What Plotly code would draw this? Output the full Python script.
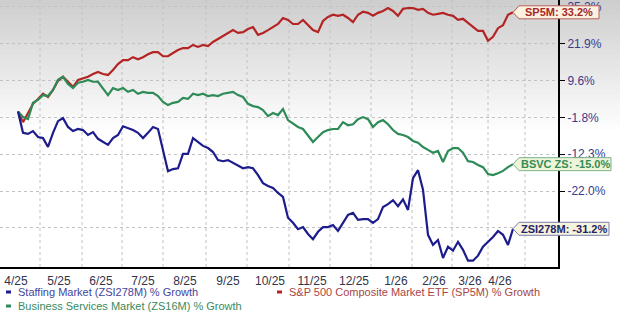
import numpy as np
import plotly.graph_objects as go

# ---------------- data ----------------
x_tick_labels = ["4/25", "5/25", "6/25", "7/25", "8/25", "9/25", "10/25",
                 "11/25", "12/25", "1/26", "2/26", "3/26", "4/26"]
x_tick_pos = [-0.4, 8.2, 16.6, 25.0, 33.4, 42.0, 50.4, 58.8, 67.2, 75.6, 83.2, 90.4, 96.4]
month_starts = [4.4, 12.8, 20.8, 29.0, 37.6, 45.8, 54.2, 62.4, 70.6, 78.8, 86.8, 94.0, 101.4]
y_ticks = [-31.0, -22.0, -12.3, -1.8, 9.6, 21.9, 35.2]
y_tick_text = ["", "-22.0%", "-12.3%", "-1.8%", "9.6%", "21.9%", "35.2%"]  # lowest one hidden by callout

sp5m = [0.0, -3.2, -0.5, 2.3, 3.8, 5.4, 4.4, 6.6, 9.5, 10.8,
        9.2, 7.6, 9.8, 10.4, 10.8, 11.7, 12.4, 11.7, 11.4, 13.0,
        15.0, 16.3, 16.3, 17.3, 16.6, 17.3, 18.3, 19.0, 19.0, 17.6,
        17.6, 18.7, 19.7, 20.4, 20.4, 21.5, 20.8, 21.5, 21.1, 22.5,
        23.6, 24.6, 25.7, 26.7, 25.7, 26.0, 27.1, 27.8, 25.0, 25.7,
        26.7, 27.8, 28.9, 31.1, 30.4, 28.9, 28.9, 30.4, 28.5, 26.7,
        26.0, 30.0, 31.5, 32.3, 31.9, 32.3, 31.1, 29.6, 32.3, 33.4,
        33.0, 31.9, 33.0, 33.7, 34.8, 33.7, 31.9, 34.5, 34.8, 34.8,
        34.1, 34.5, 33.0, 32.3, 32.6, 33.0, 32.3, 31.9, 30.4, 30.8,
        29.3, 27.8, 26.4, 26.4, 22.9, 24.3, 27.4, 28.5, 32.3, 33.2]

bsvc = [0.0, -1.7, -2.3, 2.6, 3.5, 5.0, 4.7, 6.6, 9.8, 10.8,
        8.5, 7.2, 8.9, 9.2, 9.8, 9.2, 9.2, 6.9, 5.0, 7.2,
        6.6, 7.2, 6.0, 6.6, 5.4, 6.0, 5.7, 5.7, 4.7, 2.9,
        1.9, 2.6, 2.9, 4.1, 3.8, 5.4, 5.0, 5.4, 4.7, 5.0,
        4.7, 5.4, 5.7, 6.0, 5.0, 4.4, 2.3, 1.6, 1.3, 0.4,
        -1.4, -0.5, -1.1, 0.7, -2.6, -3.5, -4.6, -5.2, -7.2, -8.9,
        -7.5, -6.1, -5.5, -5.2, -5.2, -3.2, -4.1, -3.8, -2.3, -1.7,
        -2.3, -4.6, -3.2, -2.6, -3.8, -5.5, -6.6, -6.9, -7.5, -8.6,
        -9.1, -10.3, -11.1, -11.9, -11.4, -14.4, -11.4, -10.6, -10.6, -11.9,
        -14.2, -14.4, -15.2, -15.8, -17.6, -17.9, -17.4, -16.8, -15.8, -15.0]

zsi278m = [0.0, -6.3, -6.6, -5.8, -7.5, -7.8, -10.3, -6.3, -2.9, -2.0,
           -4.6, -5.8, -5.2, -5.5, -6.9, -6.1, -8.0, -8.9, -9.7, -7.8,
           -6.9, -4.4, -4.9, -5.5, -6.3, -7.8, -6.3, -4.6, -5.2, -11.1,
           -16.9, -16.3, -16.1, -12.2, -12.2, -7.8, -8.9, -10.0, -10.6, -11.7,
           -13.9, -14.2, -13.9, -14.7, -15.3, -16.1, -15.8, -16.1, -17.9, -20.0,
           -20.7, -21.2, -22.5, -23.5, -28.6, -29.8, -31.3, -30.8, -32.4, -33.6,
           -31.9, -30.8, -30.8, -30.3, -31.7, -29.8, -27.9, -27.4, -29.1, -28.9,
           -28.9, -29.8, -28.9, -26.0, -25.3, -24.3, -25.8, -24.1, -26.7, -18.7,
           -16.6, -21.7, -32.6, -34.9, -33.8, -37.8, -35.3, -36.2, -34.2, -36.0,
           -38.4, -38.4, -37.3, -35.3, -34.2, -33.1, -31.7, -32.6, -34.9, -31.2]

# ---------------- scale / style ----------------
OFFSET = 140.0                      # compressed % scale used by the source chart
Y_RANGE_PCT = [-39.77, 37.84]
X_RANGE = [-3.6, 108.0]
yr = np.log10(np.array(Y_RANGE_PCT) + OFFSET)

FONT = "Liberation Sans, Arial, sans-serif"
RED, GREEN, BLUE = "#b52424", "#2e8b57", "#1c1c8c"
GRID = "#c2c2c2"


def paper_y(v):
    return float((np.log10(v + OFFSET) - yr[0]) / (yr[1] - yr[0]))


def paper_x(i):
    return float((i - X_RANGE[0]) / (X_RANGE[1] - X_RANGE[0]))


fig = go.Figure()
for vals, col in [(sp5m, RED), (bsvc, GREEN), (zsi278m, BLUE)]:
    fig.add_trace(go.Scatter(x=np.arange(len(vals)), y=np.array(vals) + OFFSET,
                             mode="lines", line=dict(color=col, width=2.2),
                             showlegend=False, hoverinfo="skip"))

shapes = []
# gray-to-white background gradient in the upper part of the chart
H = 267.0
n = 27
for k in range(n):
    c = int(round(206 + (255 - 206) * k / (n - 1)))
    shapes.append(dict(type="rect", xref="paper", yref="paper", layer="below",
                       x0=0, x1=620 / 558, y0=1 - (k + 1) * 5 / H - 0.002, y1=1 - k * 5 / H,
                       fillcolor=f"rgb({c},{c},{c})", line=dict(width=0)))
# month gridlines
for m in month_starts:
    shapes.append(dict(type="line", xref="x", yref="paper", layer="below",
                       x0=m, x1=m, y0=0, y1=1,
                       line=dict(color=GRID, width=1, dash="dot")))

annotations = []
# end-of-line callouts
callouts = [
    (sp5m, "SP5M: 33.2%", "#a3282a", "#fcf1de", "#b86060", 86),
    (bsvc, "BSVC ZS: -15.0%", "#358a55", "#eef4d8", "#79b58c", 98),
    (zsi278m, "ZSI278M: -31.2%", "#1e2468", "#f7f3dc", "#7b7fae", 96),
]
for vals, txt, tcol, bg, bd, w in callouts:
    xa = paper_x(len(vals) - 1)
    ya = paper_y(vals[-1])
    shapes.append(dict(type="path", xref="paper", yref="paper", layer="above",
                       xsizemode="pixel", ysizemode="pixel", xanchor=xa, yanchor=ya,
                       path=f"M0,0 L6,6.5 L{w},6.5 L{w},-6.5 L6,-6.5 Z",
                       fillcolor=bg, line=dict(color=bd, width=1)))
    annotations.append(dict(xref="paper", yref="paper", x=xa, y=ya,
                            xshift=3 + w / 2, xanchor="center", yanchor="middle",
                            text=f"<b>{txt}</b>", showarrow=False,
                            font=dict(family=FONT, size=11, color=tcol)))

# legend (drawn as text rows)
legend_items = [
    ("Staffing Market (ZSI278M) % Growth", BLUE, "#45459a", 6, 292),
    ("S&P 500 Composite Market ETF (SP5M) % Growth", RED, "#a84545", 277, 292),
    ("Business Services Market (ZS16M) % Growth", GREEN, "#3a8a5c", 6, 306),
]
for txt, dcol, tcol, xpx, ypx in legend_items:
    yp = (H - ypx) / H
    shapes.append(dict(type="rect", xref="paper", yref="paper",
                       x0=xpx / 558, x1=(xpx + 5) / 558,
                       y0=yp - 1.5 / H, y1=yp + 1.5 / H,
                       fillcolor=dcol, line=dict(width=0)))
    annotations.append(dict(xref="paper", yref="paper", x=(xpx + 10) / 558, y=yp,
                            xanchor="left", yanchor="middle", text=txt, showarrow=False,
                            font=dict(family=FONT, size=11, color=tcol)))

fig.update_layout(
    width=620, height=315,
    margin=dict(l=0, r=62, t=0, b=48),
    paper_bgcolor="white", plot_bgcolor="rgba(0,0,0,0)",
    shapes=shapes, annotations=annotations,
    xaxis=dict(range=X_RANGE, tickmode="array", tickvals=x_tick_pos, ticktext=x_tick_labels,
               showgrid=False, zeroline=False, showline=True, linecolor="black", linewidth=2,
               ticks="outside", ticklen=2, tickcolor="rgba(0,0,0,0)",
               tickfont=dict(family=FONT, size=12, color="#33334a")),
    yaxis=dict(type="log", range=list(yr), side="right", tickmode="array",
               tickvals=[t + OFFSET for t in y_ticks],
               ticktext=y_tick_text,
               showgrid=True, gridcolor=GRID, griddash="dot", gridwidth=1,
               zeroline=False, showline=True, linecolor="black", linewidth=2,
               ticks="outside", ticklen=5, tickcolor="black", tickwidth=1,
               tickfont=dict(family=FONT, size=12, color="#3a3a8c")),
)

fig.write_html("out.html")
